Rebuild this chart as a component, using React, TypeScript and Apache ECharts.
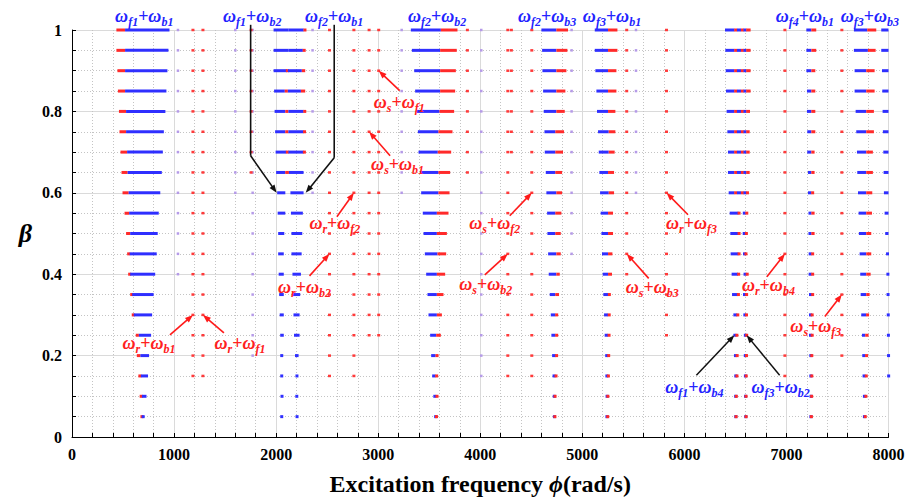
import React, { useEffect, useRef } from 'react';
import * as echarts from 'echarts';

// Rows of the stability map (coefficient beta), top to bottom
const betaRows = [1.0, 0.95, 0.9, 0.85, 0.8, 0.75, 0.7, 0.65, 0.6, 0.55, 0.5, 0.45, 0.4, 0.35, 0.3, 0.25, 0.2, 0.15, 0.1, 0.05];

// ωf1+ωb1 band: red from start to split, blue from split to end (rad/s)
const bandAStart = [435, 435, 445, 450, 460, 465, 475, 485, 495, 515, 530, 545, 560, 580, 595, 625, 635, 655, 670, 680];
const bandASplit = [520, 520, 520, 520, 530, 530, 540, 545, 555, 560, 570, 565, 570, 590, 605, 655, 670, 675, 685, 690];
const bandAEnd = [955, 945, 935, 925, 915, 900, 890, 880, 865, 850, 840, 830, 815, 800, 785, 775, 755, 745, 730, 705];

// ωf1+ωb2 (left) and ωf2+ωb1 (right) bands
const bandB1Start = [1975, 1975, 1975, 1980, 1985, 1990, 1995, 2000, 2010, 2015, 2020, 2020, 2025, 2030, 2035, 2040, 2045, 2045, 2050, 2050];
const bandB1BlueEnd = [2120, 2120, 2105, 2085, 2090, 2090, 2100, 2090, 2090, 2090, 2080, 2075, 2075, 2075, 2075, 2075, 2065, 2065, 2065, 2060];
const bandB1RedEnd = [2120, 2120, 2115, 2115, 2120, 2120, 2120, 2125, 2090, 2090, 2080, 2075, 2075, 2075, 2075, 2075, 2065, 2065, 2065, 2060];
const bandB2Start = [2120, 2120, 2115, 2115, 2120, 2120, 2120, 2125, 2140, 2145, 2150, 2150, 2160, 2165, 2170, 2175, 2185, 2195, 2195, 2200];
const bandB2BlueEnd = [2270, 2262, 2252, 2243, 2269, 2269, 2269, 2269, 2269, 2262, 2256, 2250, 2243, 2236, 2230, 2230, 2220, 2213, 2210, 2210];
const bandB2RedEnd = [2295, 2288, 2285, 2285, 2292, 2288, 2285, 2269, 2269, 2262, 2256, 2250, 2243, 2236, 2230, 2230, 2220, 2213, 2210, 2210];

// ωf2+ωb2 band: blue start..split, red split..end
const bandCStart = [3320, 3330, 3353, 3362, 3379, 3389, 3395, 3411, 3421, 3437, 3444, 3457, 3470, 3483, 3493, 3509, 3519, 3529, 3542, 3558];
const bandCSplit = [3614, 3607, 3607, 3607, 3601, 3591, 3584, 3591, 3591, 3575, 3575, 3581, 3575, 3575, 3575, 3568, 3562, 3562, 3568, 3568];
const bandCEnd = [3777, 3770, 3761, 3754, 3744, 3728, 3715, 3705, 3699, 3689, 3673, 3666, 3656, 3640, 3624, 3614, 3591, 3584, 3584, 3575];

// ωf2+ωb3 band
const bandDStart = [4599, 4606, 4609, 4616, 4622, 4629, 4632, 4642, 4648, 4655, 4658, 4665, 4671, 4681, 4691, 4697, 4704, 4710, 4720, 4723];
const bandDSplit = [4746, 4746, 4746, 4746, 4746, 4736, 4736, 4736, 4746, 4736, 4736, 4746, 4746, 4736, 4736, 4736, 4740, 4736, 4730, 4730];
const bandDEnd = [4860, 4854, 4844, 4834, 4828, 4821, 4811, 4802, 4802, 4795, 4789, 4789, 4779, 4772, 4762, 4762, 4756, 4749, 4736, 4733];

// ωf3+ωb1 band
const bandEStart = [5122, 5122, 5128, 5138, 5144, 5154, 5161, 5167, 5174, 5180, 5187, 5193, 5200, 5206, 5213, 5219, 5226, 5229, 5236, 5236];
const bandESplit = [5252, 5252, 5252, 5252, 5252, 5259, 5259, 5252, 5259, 5252, 5252, 5252, 5252, 5252, 5252, 5252, 5252, 5252, 5249, 5246];
const bandEEnd = [5344, 5344, 5334, 5334, 5324, 5324, 5317, 5311, 5311, 5301, 5301, 5295, 5291, 5278, 5275, 5272, 5265, 5259, 5252, 5252];

// ωf1+ωb4 / ωf3+ωb2: merged for beta >= 0.6 (rows 0-8) with alternating colours
const bandFUpperStart = [6398, 6401, 6405, 6408, 6414, 6421, 6427, 6427, 6434];
const bandFUpperEnd = [6649, 6649, 6649, 6649, 6643, 6640, 6640, 6640, 6630];
const bandFColourBreaks = [6490, 6515, 6555, 6582, 6606];
// split into two bands for rows 9-19
const bandF1Start = [6444, 6450, 6453, 6463, 6467, 6480, 6480, 6489, 6496, 6499, 6502];
const bandF1Split = [6530, 6530, 6530, 6526, 6524, 6518, 6510, 6512, 6511, 6506, 6505];
const bandF1End = [6542, 6542, 6542, 6538, 6535, 6529, 6519, 6522, 6519, 6512, 6509];
const bandF2Start = [6574, 6574, 6581, 6584, 6578, 6584, 6591, 6591, 6594, 6597, 6600];
const bandF2Split = [6600, 6598, 6597, 6605, 6600, 6601, 6604, 6603, 6602, 6602, 6603];
const bandF2End = [6623, 6617, 6610, 6626, 6620, 6617, 6617, 6614, 6610, 6607, 6607];

// ωf4+ωb1 band
const bandGStart = [7195, 7195, 7195, 7201, 7201, 7204, 7204, 7211, 7211, 7217, 7217, 7221, 7221, 7227, 7227, 7227, 7234, 7234, 7237, 7237];
const bandGSplit = [7244, 7244, 7244, 7244, 7244, 7244, 7244, 7244, 7244, 7244, 7244, 7244, 7244, 7244, 7244, 7244, 7244, 7244, 7244, 7242];
const bandGEnd = [7292, 7292, 7283, 7283, 7283, 7283, 7276, 7276, 7270, 7276, 7276, 7270, 7270, 7270, 7260, 7260, 7253, 7253, 7250, 7247];

// ωf3+ωb3 band
const bandHStart = [7661, 7661, 7668, 7668, 7678, 7684, 7691, 7694, 7701, 7707, 7710, 7717, 7723, 7727, 7733, 7740, 7743, 7749, 7756, 7759];
const bandHSplit = [7792, 7798, 7782, 7782, 7782, 7782, 7782, 7782, 7782, 7782, 7782, 7782, 7782, 7782, 7782, 7772, 7772, 7772, 7772, 7769];
const bandHEnd = [7880, 7874, 7864, 7864, 7857, 7857, 7847, 7847, 7841, 7838, 7831, 7831, 7825, 7815, 7808, 7805, 7798, 7792, 7785, 7776];

// band running off the right edge (rows 0-17)
const bandIStart = [7929, 7929, 7936, 7939, 7942, 7945, 7949, 7952, 7955, 7962, 7968, 7971, 7978, 7981, 7985, 7988, 7991, 7993];
const bandIEnd = 8010;

// isolated combination-resonance points: frequency and last row reached
const redDotFreqs = [1185, 1283, 1755, 2523, 2762, 2911, 3005, 3874, 4270, 4305, 4505, 5435, 5825, 6985, 7543];
const redDotLastRow = [17, 17, 7, 17, 17, 15, 15, 7, 17, 6, 17, 12, 15, 17, 16];
const purpleDotFreqs = [1038, 1600, 1770, 2357, 3230, 4010, 4895, 5526];
const purpleDotLastRow = [12, 8, 16, 8, 8, 17, 11, 8];

// axis ticks
const xTicks = { min: 0, max: 8000, interval: 1000 };
const yTicks = { min: 0, max: 1, interval: 0.2 };

const BLUE = 0;
const RED = 1;
const PURPLE = 2;
const DOT = 3;
const palette = ['#2f2fff', '#ff2a2a', '#b59ae8', '#ff3a3a'];
const SERIF = '"Liberation Serif", "Times New Roman", serif';

type Seg = [number, number, number, number];

function buildSegments(): Seg[] {
  const segs: Seg[] = [];
  const add = (row: number, f0: number, f1: number, c: number) => {
    if (f1 >= f0) segs.push([f0, f1, betaRows[row], c]);
  };
  for (let r = 0; r < 20; r++) {
    add(r, bandAStart[r], bandASplit[r], RED);
    add(r, bandASplit[r], bandAEnd[r], BLUE);

    add(r, bandB1Start[r], bandB1BlueEnd[r], BLUE);
    if (bandB1RedEnd[r] > bandB1BlueEnd[r]) add(r, bandB1BlueEnd[r], bandB1RedEnd[r], RED);
    add(r, bandB2Start[r], bandB2BlueEnd[r], BLUE);
    if (bandB2RedEnd[r] > bandB2BlueEnd[r]) add(r, bandB2BlueEnd[r], bandB2RedEnd[r], RED);

    add(r, bandCStart[r], bandCSplit[r], BLUE);
    add(r, bandCSplit[r], bandCEnd[r], RED);
    add(r, bandDStart[r], bandDSplit[r], BLUE);
    add(r, bandDSplit[r], bandDEnd[r], RED);
    add(r, bandEStart[r], bandESplit[r], BLUE);
    add(r, bandESplit[r], bandEEnd[r], RED);
    add(r, bandGStart[r], bandGSplit[r], BLUE);
    add(r, bandGSplit[r], bandGEnd[r], RED);
    add(r, bandHStart[r], bandHSplit[r], BLUE);
    add(r, bandHSplit[r], bandHEnd[r], RED);
    if (r < bandIStart.length) add(r, bandIStart[r], bandIEnd, BLUE);
  }
  bandFUpperStart.forEach((s, r) => {
    const edges = [s, ...bandFColourBreaks.filter((b) => b > s && b < bandFUpperEnd[r]), bandFUpperEnd[r]];
    for (let i = 0; i < edges.length - 1; i++) add(r, edges[i], edges[i + 1], i % 2 === 0 ? BLUE : RED);
  });
  bandF1Start.forEach((s, i) => {
    const r = i + 9;
    add(r, s, bandF1Split[i], BLUE);
    add(r, bandF1Split[i], bandF1End[i], RED);
    add(r, bandF2Start[i], bandF2Split[i], BLUE);
    add(r, bandF2Split[i], bandF2End[i], RED);
  });
  purpleDotFreqs.forEach((f, i) => {
    for (let r = 0; r <= purpleDotLastRow[i]; r++) add(r, f, f, PURPLE);
  });
  redDotFreqs.forEach((f, i) => {
    for (let r = 0; r <= redDotLastRow[i]; r++) add(r, f, f, DOT);
  });
  return segs;
}

// ---- annotation text (rich text with subscripts) ----
const richStyles = (fill: string) => ({
  w: { fontFamily: SERIF, fontStyle: 'italic', fontWeight: 'bold', fontSize: 18, lineHeight: 20, fill },
  s: { fontFamily: SERIF, fontStyle: 'italic', fontWeight: 'bold', fontSize: 12, lineHeight: 12, verticalAlign: 'bottom', padding: [0, 0, -2, 0], fill },
  p: { fontFamily: SERIF, fontWeight: 'bold', fontSize: 18, lineHeight: 20, fill },
});
const combo = (a: string, b: string) => `{w|ω}{s|${a}}{p|+}{w|ω}{s|${b}}`;

// blue band names along the top: [sub1, sub2, frequency of label centre]
const topNotes: [string, string, number][] = [
  ['f1', 'b1', 708],
  ['f1', 'b2', 1766],
  ['f2', 'b1', 2569],
  ['f2', 'b2', 3577],
  ['f2', 'b3', 4655],
  ['f3', 'b1', 5291],
  ['f4', 'b1', 7181],
  ['f3', 'b3', 7818],
];

// red arrows: subscripts, tip (freq, beta), tail offset px, label offset px
const redNotes: { a: string; b: string; tip: [number, number]; tail: [number, number]; label: [number, number] }[] = [
  { a: 's', b: 'f1', tip: [3005, 0.9], tail: [21, 20], label: [20.5, 31] },
  { a: 's', b: 'b1', tip: [2911, 0.75], tail: [21, 24], label: [28.5, 32] },
  { a: 'r', b: 'f2', tip: [2762, 0.6], tail: [-17, 24], label: [-19, 30] },
  { a: 'r', b: 'b2', tip: [2523, 0.45], tail: [-20, 22], label: [-25, 33] },
  { a: 'r', b: 'b1', tip: [1185, 0.3], tail: [-23, 20], label: [-44, 28] },
  { a: 'r', b: 'f1', tip: [1283, 0.3], tail: [21, 18], label: [37, 28] },
  { a: 's', b: 'f2', tip: [4505, 0.6], tail: [-22, 23], label: [-37, 30] },
  { a: 's', b: 'b2', tip: [4270, 0.45], tail: [-23, 21], label: [-22, 30] },
  { a: 'r', b: 'f3', tip: [5825, 0.6], tail: [21.5, 22], label: [25, 30.5] },
  { a: 's', b: 'b3', tip: [5435, 0.45], tail: [22, 24.5], label: [25.5, 33] },
  { a: 'r', b: 'b4', tip: [6985, 0.45], tail: [-18, 23], label: [-16.5, 31] },
  { a: 's', b: 'f3', tip: [7543, 0.35], tail: [-17, 22], label: [-26, 31.5] },
];

// blue labels with black arrows near the bottom right
const blackNotes: { a: string; b: string; tip: [number, number]; tail: [number, number]; label: [number, number] }[] = [
  { a: 'f1', b: 'b4', tip: [6490, 0.25], tail: [-38, 40], label: [-40, 52] },
  { a: 'f3', b: 'b2', tip: [6610, 0.25], tail: [33, 40], label: [34, 52] },
];

// leader lines from the top labels down to the merged band at beta = 0.6
const leaders: { tip: [number, number]; path: [number, number][] }[] = [
  { tip: [2005, 0.6], path: [[-26, -168], [-26, -37]] },
  { tip: [2290, 0.6], path: [[28.5, -168], [28.5, -35]] },
];

function arrowParts(tail: number[], tip: number[], color: string, lw: number, hl = 8, hw = 3) {
  const dx = tip[0] - tail[0];
  const dy = tip[1] - tail[1];
  const len = Math.hypot(dx, dy) || 1;
  const ux = dx / len;
  const uy = dy / len;
  const bx = tip[0] - ux * hl;
  const by = tip[1] - uy * hl;
  return [
    {
      type: 'line', z: 100, silent: true,
      shape: { x1: tail[0], y1: tail[1], x2: bx + ux * 2, y2: by + uy * 2 },
      style: { stroke: color, lineWidth: lw },
    },
    {
      type: 'polygon', z: 100, silent: true,
      shape: { points: [[tip[0], tip[1]], [bx - uy * hw, by + ux * hw], [bx + uy * hw, by - ux * hw]] },
      style: { fill: color },
    },
  ];
}

function textEl(x: number, y: number, text: string, fill: string) {
  return {
    type: 'text', z: 101, silent: true, x, y,
    style: { text, rich: richStyles(fill), align: 'center', verticalAlign: 'middle', fill },
  };
}

function buildAnnotations(chart: echarts.ECharts) {
  const px = (p: [number, number]) => chart.convertToPixel({ gridIndex: 0 }, p) as number[];
  const els: any[] = [];
  const blueText = '#2323ff';
  const redText = '#ff2020';
  topNotes.forEach(([a, b, f]) => {
    const p = px([f, 1]);
    els.push(textEl(p[0], p[1] - 14, combo(a, b), blueText));
  });
  redNotes.forEach((n) => {
    const t = px(n.tip);
    els.push(...arrowParts([t[0] + n.tail[0], t[1] + n.tail[1]], t, '#ff1a1a', 1.6));
    els.push(textEl(t[0] + n.label[0], t[1] + n.label[1], combo(n.a, n.b), redText));
  });
  blackNotes.forEach((n) => {
    const t = px(n.tip);
    els.push(...arrowParts([t[0] + n.tail[0], t[1] + n.tail[1]], t, '#111', 1.5));
    els.push(textEl(t[0] + n.label[0], t[1] + n.label[1], combo(n.a, n.b), blueText));
  });
  leaders.forEach((l) => {
    const t = px(l.tip);
    const pts = l.path.map(([dx, dy]) => [t[0] + dx, t[1] + dy]);
    els.push({
      type: 'polyline', z: 100, silent: true,
      shape: { points: pts },
      style: { stroke: '#111', lineWidth: 1.6, fill: 'none' },
    });
    els.push(...arrowParts(pts[pts.length - 1], t, '#111', 1.6));
  });
  return els;
}

const axisFont = { fontFamily: SERIF, fontWeight: 'bold' as const, fontSize: 16, color: '#000' };
const plainNumber = (v: number) => String(Math.round(v * 100) / 100);

export default function App() {
  const ref = useRef<HTMLDivElement>(null);
  useEffect(() => {
    const el = ref.current;
    if (!el) return;
    const chart = echarts.init(el, null, { renderer: 'svg' });
    const segs = buildSegments();
    chart.setOption({
      animation: false,
      backgroundColor: '#fff',
      grid: { left: 72, right: 28.5, top: 30, bottom: 60, containLabel: false, outerBoundsMode: 'none' },
      xAxis: {
        type: 'value',
        ...xTicks,
        name: '{n|Excitation frequency }{i|ϕ}{n|(rad/s)}',
        nameLocation: 'middle',
        nameGap: 34,
        nameTextStyle: {
          rich: {
            n: { fontFamily: SERIF, fontWeight: 'bold', fontSize: 24, lineHeight: 26, color: '#000' },
            i: { fontFamily: SERIF, fontWeight: 'bold', fontStyle: 'italic', fontSize: 24, lineHeight: 26, color: '#000' },
          },
        },
        axisLine: { show: true, onZero: false, lineStyle: { color: '#000', width: 1 } },
        axisTick: { show: true, inside: true, length: 4, lineStyle: { color: '#000' } },
        minorTick: { show: true, splitNumber: 5, length: 4, lineStyle: { color: '#000' } },
        axisLabel: { ...axisFont, margin: 9, formatter: plainNumber },
        splitLine: { show: true, lineStyle: { color: '#dadada', width: 1 } },
        minorSplitLine: { show: true, lineStyle: { color: '#c4c4c4', width: 1, type: [1, 2] } },
      },
      yAxis: {
        type: 'value',
        ...yTicks,
        name: 'β',
        nameLocation: 'middle',
        nameGap: 40,
        nameRotate: 0,
        nameTextStyle: { fontFamily: SERIF, fontWeight: 'bold', fontStyle: 'italic', fontSize: 26, color: '#000' },
        axisLine: { show: true, onZero: false, lineStyle: { color: '#000', width: 1 } },
        axisTick: { show: true, inside: true, length: 4, lineStyle: { color: '#000' } },
        minorTick: { show: true, splitNumber: 4, length: 4, lineStyle: { color: '#000' } },
        axisLabel: { ...axisFont, margin: 10, formatter: plainNumber },
        splitLine: { show: true, lineStyle: { color: '#dadada', width: 1 } },
        minorSplitLine: { show: true, lineStyle: { color: '#c4c4c4', width: 1, type: [1, 2] } },
      },
      series: [
        {
          type: 'custom',
          clip: false,
          encode: { x: [0, 1], y: 2 },
          data: segs,
          renderItem: (_params: any, api: any) => {
            const beta = api.value(2);
            const a = api.coord([api.value(0), beta]);
            const b = api.coord([api.value(1), beta]);
            const right = api.coord([8000, beta])[0];
            const c = api.value(3) as number;
            const minW = c === PURPLE ? 2.5 : 3;
            const h = c === PURPLE ? 2.5 : c === DOT ? 2.5 : 3;
            let x = a[0];
            let w = Math.min(b[0], right) - a[0];
            if (w < minW) {
              x = (a[0] + b[0]) / 2 - minW / 2;
              w = minW;
            }
            return {
              type: 'rect',
              shape: { x, y: a[1] - h / 2, width: w, height: h },
              style: { fill: palette[c] },
            };
          },
        },
      ],
    });
    chart.setOption({ graphic: buildAnnotations(chart) });
    return () => chart.dispose();
  }, []);
  return <div ref={ref} style={{ position: 'fixed', left: 0, top: 0, width: 917, height: 497, background: '#fff' }} />;
}
